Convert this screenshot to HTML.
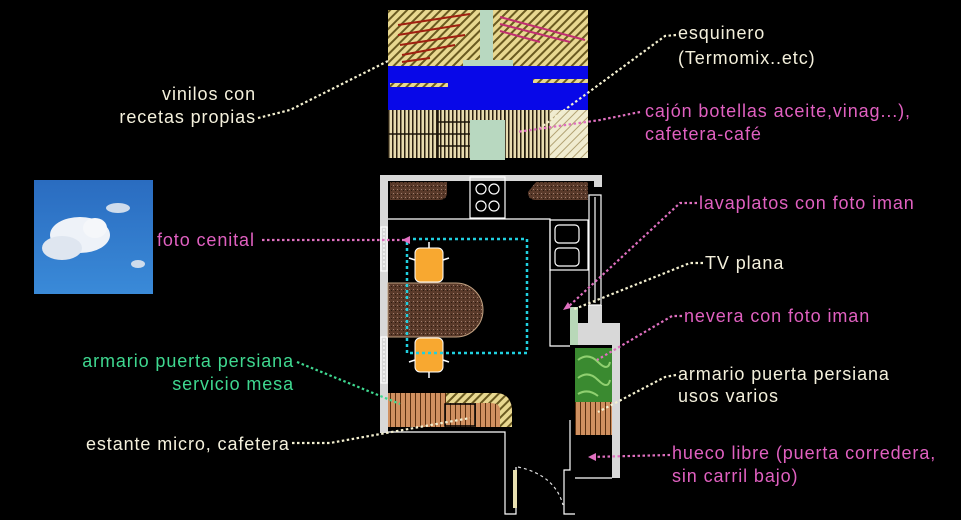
<!DOCTYPE html>
<html><head><meta charset="utf-8"><style>
html,body{margin:0;padding:0;background:#000;}
svg{display:block;}
text{font-family:"Liberation Sans",sans-serif;font-size:18px;letter-spacing:0.9px;}
.w{fill:#f4f0dc}.p{fill:#e060c0}.g{fill:#3fd890}
</style></head><body>
<svg width="961" height="520" viewBox="0 0 961 520" xmlns="http://www.w3.org/2000/svg">
<defs>
<pattern id="hy" width="6" height="6" patternUnits="userSpaceOnUse" patternTransform="rotate(45)"><rect width="6" height="6" fill="#e8d890"/><rect width="2" height="6" fill="#6a5a20"/></pattern>
<pattern id="hl" width="6" height="6" patternUnits="userSpaceOnUse" patternTransform="rotate(45)"><rect width="6" height="6" fill="#f0ecd0"/><rect width="1" height="6" fill="#b0a070"/></pattern>
<pattern id="sl" width="4" height="4" patternUnits="userSpaceOnUse"><rect width="4" height="4" fill="#e8dcb0"/><rect width="1.5" height="4" fill="#2a2010"/></pattern>
<pattern id="wd" width="5" height="5" patternUnits="userSpaceOnUse"><rect width="5" height="5" fill="#d09060"/><rect width="1" height="5" fill="#5a3010"/></pattern>
<pattern id="gr" width="4" height="4" patternUnits="userSpaceOnUse"><rect width="4" height="4" fill="#5a3a2a"/><rect x="1" y="1" width="1" height="1" fill="#a08070"/><rect x="3" y="2" width="1" height="1" fill="#2a1a10"/></pattern>
<linearGradient id="sky" x1="0" y1="0" x2="0" y2="1"><stop offset="0" stop-color="#2a6cc0"/><stop offset="1" stop-color="#3a8ad8"/></linearGradient>
</defs>

<rect x="34" y="180" width="119" height="114" fill="url(#sky)"/>
<ellipse cx="80" cy="235" rx="30" ry="18" fill="#eef2f8"/>
<ellipse cx="62" cy="248" rx="20" ry="12" fill="#dfe6f0"/>
<ellipse cx="95" cy="228" rx="12" ry="10" fill="#f5f7fa"/>
<ellipse cx="118" cy="208" rx="12" ry="5" fill="#cfdcec"/>
<ellipse cx="138" cy="264" rx="7" ry="4" fill="#cfdcec"/>

<rect x="388" y="10" width="200" height="56" fill="url(#hy)"/>
<g stroke="#a02010" stroke-width="2">
<line x1="398" y1="25" x2="470" y2="14"/><line x1="398" y1="35" x2="460" y2="25"/><line x1="400" y1="45" x2="465" y2="35"/><line x1="402" y1="55" x2="455" y2="45"/><line x1="402" y1="62" x2="430" y2="58"/>
</g>
<g stroke="#c03070" stroke-width="2"><line x1="500" y1="17" x2="585" y2="40"/><line x1="500" y1="24" x2="570" y2="42"/><line x1="500" y1="31" x2="540" y2="42"/></g>
<rect x="480" y="10" width="13" height="52" fill="#b8d8c0"/>
<rect x="463" y="60" width="50" height="7" fill="#b8d8c0"/>
<rect x="388" y="66" width="200" height="44" fill="#0808e8"/>
<rect x="390" y="83" width="58" height="4" fill="url(#hy)"/>
<rect x="533" y="79" width="55" height="4" fill="url(#hy)"/>
<rect x="388" y="110" width="200" height="48" fill="url(#sl)"/>
<g stroke="#1a1408" stroke-width="1.5"><line x1="388" y1="134" x2="470" y2="134"/><line x1="438" y1="110" x2="438" y2="158"/><line x1="505" y1="110" x2="505" y2="158"/><line x1="525" y1="110" x2="525" y2="158"/><line x1="438" y1="122" x2="470" y2="122"/><line x1="438" y1="146" x2="470" y2="146"/></g>
<rect x="550" y="110" width="38" height="48" fill="url(#hl)"/>
<rect x="470" y="120" width="35" height="40" fill="#b8d8c0"/>

<g fill="#d8d8d8">
<rect x="380" y="175" width="222" height="6"/>
<rect x="380" y="175" width="8" height="258"/>
<rect x="594" y="175" width="8" height="12"/>
<rect x="588" y="305" width="14" height="18"/>
<rect x="575" y="323" width="45" height="22"/>
<rect x="612" y="323" width="8" height="155"/>
</g>
<g fill="none" stroke="#fff" stroke-width="1.2">
<rect x="381" y="227" width="6" height="44"/><line x1="384" y1="229" x2="384" y2="269" stroke-dasharray="2 2"/>
<rect x="381" y="337" width="6" height="46"/><line x1="384" y1="339" x2="384" y2="381" stroke-dasharray="2 2"/>
<rect x="589" y="195" width="12" height="110"/><line x1="595" y1="197" x2="595" y2="303"/>
<polyline points="388,219 550,219 550,346 570,346"/>
<rect x="550" y="220" width="38" height="50"/>
<rect x="555" y="225" width="24" height="18" rx="4"/><rect x="555" y="248" width="24" height="18" rx="4"/>
<polyline points="388,432 505,432 505,514 516,514 516,467"/>
<polyline points="575,478 612,478"/>
<polyline points="570,420 570,470 564,470 564,514 575,514"/>
<rect x="470" y="177" width="35" height="41"/>
<circle cx="481" cy="189" r="5"/><circle cx="494" cy="189" r="5"/><circle cx="481" cy="206" r="5"/><circle cx="494" cy="206" r="5"/>
</g>
<path d="M518,467 Q555,475 563,505" fill="none" stroke="#ddd" stroke-width="1.2" stroke-dasharray="3 3"/>
<rect x="513" y="470" width="4" height="38" fill="#e8e0b0"/>
<rect x="570" y="307" width="8" height="38" fill="#b8d8b8"/>
<path d="M390,182 H447 V192 Q447,200 439,200 H390 Z" fill="url(#gr)"/>
<path d="M536,182 H588 V200 H536 Q528,200 528,192 Z" fill="url(#gr)"/>
<path d="M388,283 H456 A27,27 0 0 1 456,337 H388 Z" fill="url(#gr)" stroke="#c0a080"/>
<path d="M388,393 H495 Q512,393 512,412 V427 H388 Z" fill="url(#wd)"/>
<path d="M446,393 H495 Q512,393 512,412 V427 H500 V410 Q500,403 490,403 H446 Z" fill="url(#hy)"/>
<rect x="445" y="404" width="30" height="22" fill="none" stroke="#000" stroke-width="1.5"/>
<g fill="#f8a830" stroke="#fff">
<rect x="415" y="248" width="28" height="34" rx="5"/><rect x="415" y="338" width="28" height="34" rx="5"/>
</g>
<g stroke="#fff" stroke-width="1.5"><line x1="429" y1="242" x2="429" y2="248"/><line x1="409" y1="258" x2="415" y2="260"/><line x1="443" y1="260" x2="449" y2="258"/><line x1="429" y1="372" x2="429" y2="378"/><line x1="409" y1="362" x2="415" y2="360"/><line x1="443" y1="360" x2="449" y2="362"/></g>
<rect x="407" y="239" width="120" height="114" fill="none" stroke="#20d0e0" stroke-width="2.5" stroke-dasharray="3 3"/>
<rect x="575" y="348" width="37" height="54" fill="#3a8a30"/>
<path d="M578,360 q10,-8 20,2 t12,0 M578,378 q10,-8 20,2 t12,0 M578,394 q10,-6 20,2" stroke="#90d070" fill="none" stroke-width="2"/>
<rect x="575" y="402" width="37" height="33" fill="url(#wd)"/>

<g fill="none" stroke-width="2.2" stroke-dasharray="2.5 2.5">
<polyline stroke="#f4f0d0" points="258,118 290,110 390,60"/>
<polyline stroke="#f4f0d0" points="676,35 665,36 540,128"/>
<polyline stroke="#e070c0" points="640,112 600,120 517,132"/>
<polyline stroke="#e070c0" points="262,240 410,240"/>
<polyline stroke="#e070c0" points="697,203 680,203 568,307"/>
<polyline stroke="#f4f0d0" points="703,263 690,263 572,310"/>
<polyline stroke="#e070c0" points="682,316 672,316 597,360"/>
<polyline stroke="#f4f0d0" points="676,375 665,377 598,412"/>
<polyline stroke="#e070c0" points="670,455 590,457"/>
<polyline stroke="#3fd890" points="297,362 400,404"/>
<polyline stroke="#f4f0d0" points="292,443 330,443 470,418"/>
</g>
<g fill="#e070c0"><path d="M410,236 l-8,4 8,4z"/><path d="M563,310 l8,-2 -3,-6z"/><path d="M588,457 l8,-4 0,8z"/></g>

<text class="w" x="256" y="100" text-anchor="end">vinilos con</text>
<text class="w" x="256" y="123" text-anchor="end">recetas propias</text>
<text class="w" x="678" y="39">esquinero</text>
<text class="w" x="678" y="64">(Termomix..etc)</text>
<text class="p" x="645" y="117">cajón botellas aceite,vinag...),</text>
<text class="p" x="645" y="140">cafetera-café</text>
<text class="p" x="157" y="246">foto cenital</text>
<text class="p" x="699" y="209">lavaplatos con foto iman</text>
<text class="w" x="705" y="269">TV plana</text>
<text class="p" x="684" y="322">nevera con foto iman</text>
<text class="w" x="678" y="380">armario puerta persiana</text>
<text class="w" x="678" y="402">usos varios</text>
<text class="p" x="672" y="459">hueco libre (puerta corredera,</text>
<text class="p" x="672" y="482">sin carril bajo)</text>
<text class="g" x="294" y="367" text-anchor="end">armario puerta persiana</text>
<text class="g" x="294" y="390" text-anchor="end">servicio mesa</text>
<text class="w" x="86" y="450">estante micro, cafetera</text>
</svg>
</body></html>
